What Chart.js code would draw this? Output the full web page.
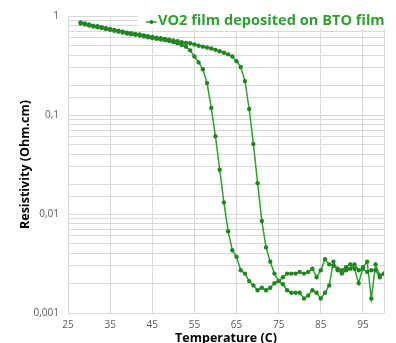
<!DOCTYPE html>
<html>
<head>
<meta charset="utf-8">
<script src="https://cdn.jsdelivr.net/npm/chart.js@4"></script>
<style>
  html, body { margin: 0; padding: 0; background: #fff; }
  #wrap { width: 396px; height: 343px; }
</style>
</head>
<body>
<div id="wrap"><canvas id="chart"></canvas></div>
<script>
"use strict";

// heating branch (C, Ohm.cm)
const heatTemp = [28, 29, 30, 31, 32, 33, 34, 35, 36, 37, 38, 39, 40, 41, 42, 43, 44, 45, 46, 47, 48, 49, 50, 51, 52, 53, 54, 55, 56, 57, 58, 59, 60, 61, 62, 63, 64, 65, 66, 67, 68, 69, 70, 71, 72, 73, 74, 75, 76, 77, 78, 79, 80, 81, 82, 83, 84, 85, 86, 87, 88, 89, 90, 91, 92, 93, 94, 95, 96, 97, 98, 99, 100];
const heatRes = [0.86, 0.84, 0.82, 0.80, 0.79, 0.77, 0.755, 0.74, 0.725, 0.71, 0.695, 0.68, 0.67, 0.66, 0.65, 0.635, 0.625, 0.615, 0.605, 0.595, 0.585, 0.575, 0.565, 0.555, 0.545, 0.535, 0.53, 0.515, 0.50, 0.49, 0.48, 0.47, 0.455, 0.44, 0.425, 0.41, 0.39, 0.35, 0.305, 0.22, 0.115, 0.051, 0.0205, 0.0085, 0.0046, 0.0033, 0.0025, 0.0021, 0.00195, 0.0017, 0.0016, 0.0016, 0.0016, 0.0014, 0.0015, 0.0017, 0.0016, 0.0014, 0.0016, 0.0019, 0.0033, 0.0027, 0.0025, 0.0027, 0.0028, 0.0031, 0.0027, 0.0028, 0.0026, 0.0027, 0.0027, 0.0023, 0.0025];

// cooling branch (C, Ohm.cm)
const coolTemp = [100, 99, 98, 97, 96, 95, 94, 93, 92, 91, 90, 89, 88, 87, 86, 85, 84, 83, 82, 81, 80, 79, 78, 77, 76, 75, 74, 73, 72, 71, 70, 69, 68, 67, 66, 65, 64, 63, 62, 61, 60, 59, 58, 57, 56, 55, 54, 53, 52, 51, 50, 49, 48, 47, 46, 45, 44, 43, 42, 41, 40, 39, 38, 37, 36, 35, 34, 33, 32, 31, 30, 29, 28];
const coolRes = [0.0025, 0.0024, 0.0031, 0.0014, 0.0033, 0.0029, 0.0020, 0.0028, 0.0031, 0.0029, 0.0027, 0.0028, 0.0030, 0.0031, 0.0035, 0.0027, 0.0023, 0.0028, 0.0026, 0.0025, 0.0026, 0.0025, 0.0025, 0.0025, 0.0023, 0.0021, 0.0020, 0.0018, 0.0017, 0.0018, 0.0017, 0.0019, 0.0021, 0.0025, 0.0027, 0.0037, 0.0043, 0.0067, 0.0131, 0.028, 0.061, 0.118, 0.21, 0.29, 0.34, 0.39, 0.45, 0.49, 0.51, 0.53, 0.545, 0.56, 0.57, 0.58, 0.59, 0.60, 0.61, 0.62, 0.635, 0.645, 0.655, 0.665, 0.68, 0.695, 0.71, 0.725, 0.74, 0.755, 0.77, 0.785, 0.80, 0.82, 0.84];

const xTicks = [25, 35, 45, 55, 65, 75, 85, 95, 100];
const xTickLabels = ["25", "35", "45", "55", "65", "75", "85", "95", ""];
const yTickValues = [1, 0.1, 0.01, 0.001];
const yTickLabels = ["1", "0,1", "0,01", "0,001"];

const seriesName = "VO2 film deposited on BTO film";
const xTitle = "Temperature (C)";
const yTitle = "Resistivity (Ohm.cm)";

const green = "#2f9f2f";
const darkGreen = "#228522";
const gridColor = "#d9d9d9";
const tickColor = "#595959";

const points = []
  .concat(heatTemp.map((t, i) => ({ x: t, y: heatRes[i] })))
  .concat(coolTemp.map((t, i) => ({ x: t, y: coolRes[i] })));

// axis titles and the legend box, drawn the way the original has them
const overlay = {
  id: "overlay",
  afterDraw(chart) {
    const ctx = chart.ctx;
    const area = chart.chartArea;
    ctx.save();

    ctx.fillStyle = "#000";
    ctx.font = "bold 12.5px 'Open Sans'";
    ctx.textAlign = "center";
    ctx.textBaseline = "middle";
    ctx.fillText(xTitle, (area.left + area.right) / 2, 338);

    ctx.translate(25, (area.top + area.bottom) / 2);
    ctx.rotate(-Math.PI / 2);
    ctx.fillText(yTitle, 0, 0);
    ctx.setTransform(1, 0, 0, 1, 0, 0);

    ctx.fillStyle = "#fff";
    ctx.fillRect(138, 8, 254, 21);

    ctx.strokeStyle = green;
    ctx.lineWidth = 1.5;
    ctx.beginPath();
    ctx.moveTo(146, 22);
    ctx.lineTo(157, 22);
    ctx.stroke();
    ctx.fillStyle = darkGreen;
    ctx.beginPath();
    ctx.arc(151.5, 22, 2, 0, Math.PI * 2);
    ctx.fill();

    ctx.fillStyle = green;
    ctx.font = "bold 14.6px 'Open Sans'";
    ctx.textAlign = "left";
    ctx.fillText(seriesName, 158, 21);
    ctx.restore();
  }
};

new Chart(document.getElementById("chart"), {
  type: "line",
  data: {
    datasets: [{
      label: seriesName,
      data: points,
      borderColor: green,
      borderWidth: 1.5,
      backgroundColor: darkGreen,
      pointBackgroundColor: darkGreen,
      pointBorderWidth: 0,
      pointRadius: 2.2,
      tension: 0,
      fill: false
    }]
  },
  options: {
    responsive: true,
    maintainAspectRatio: false,
    animation: false,
    events: [],
    layout: { padding: { top: 16, right: 12, left: 0, bottom: 0 } },
    plugins: {
      legend: { display: false },
      tooltip: { enabled: false }
    },
    scales: {
      x: {
        type: "linear",
        min: 25,
        max: 100,
        afterBuildTicks(scale) {
          scale.ticks = xTicks.map((v) => ({ value: v }));
        },
        afterFit(scale) {
          scale.height = 30;
        },
        grid: { color: gridColor, drawTicks: false },
        border: { color: gridColor },
        ticks: {
          autoSkip: false,
          maxRotation: 0,
          padding: 6,
          color: tickColor,
          font: { family: "'Open Sans'", size: 10 },
          callback: (value) => {
            const i = xTicks.indexOf(value);
            return i >= 0 ? xTickLabels[i] : "";
          }
        }
      },
      y: {
        type: "logarithmic",
        min: 0.001,
        max: 1,
        afterFit(scale) {
          scale.width = 68;
        },
        grid: { color: gridColor, drawTicks: false },
        border: { color: gridColor },
        ticks: {
          autoSkip: false,
          padding: 9,
          color: tickColor,
          font: { family: "'Open Sans'", size: 10 },
          callback: (value) => {
            const i = yTickValues.findIndex((v) => Math.abs(v - value) / v < 1e-6);
            return i >= 0 ? yTickLabels[i] : "";
          }
        }
      }
    }
  },
  plugins: [overlay]
});
</script>
</body>
</html>
